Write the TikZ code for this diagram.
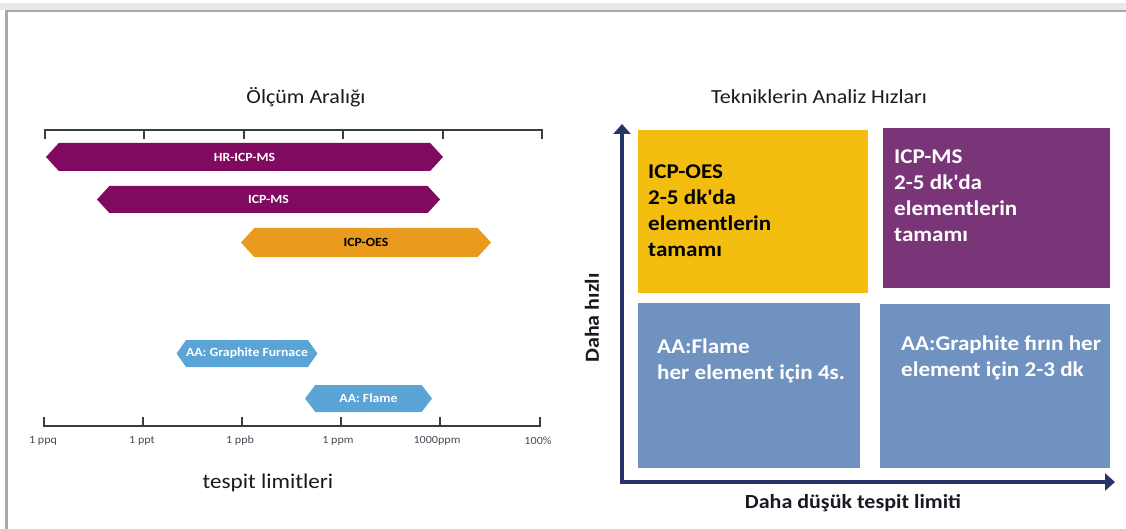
\documentclass[tikz,border=0pt]{standalone}
\usepackage{fontspec}
\setmainfont[FakeStretch=1.1]{Carlito}
\usetikzlibrary{arrows.meta,shapes.symbols}
\definecolor{ink}{RGB}{25,25,35}
\definecolor{scalegray}{RGB}{60,60,60}
\definecolor{limitgray}{RGB}{80,68,85}
\definecolor{msbar}{RGB}{127,10,95}
\definecolor{oesbar}{RGB}{233,155,29}
\definecolor{aabar}{RGB}{90,165,214}
\definecolor{oesbox}{RGB}{243,190,15}
\definecolor{msbox}{RGB}{122,53,120}
\definecolor{aabox}{RGB}{112,146,192}
\definecolor{navy}{RGB}{38,52,105}
\definecolor{framelight}{RGB}{232,232,232}
\definecolor{framedark}{RGB}{168,168,168}
\tikzset{
  title/.style={font=\fontsize{20}{24}\selectfont, text=ink, inner sep=0pt},
  scaleline/.style={scalegray, line width=1.3pt},
  ticklabel/.style={font=\fontsize{11}{13}\selectfont, text=limitgray, inner sep=0pt},
  rangebar/.style={shape=signal, signal to=west and east, signal from=nowhere,
              signal pointer angle=95, inner sep=0pt, minimum height=28pt,
              font=\fontsize{12.5}{14}\selectfont\bfseries, text=white},
  quad/.style={draw=none, inner sep=0pt},
  boxtext/.style={font=\fontsize{21}{26}\selectfont\bfseries, align=left, inner sep=0pt},
  axislabel/.style={font=\fontsize{20}{24}\selectfont\bfseries, text=ink, inner sep=0pt},
  axis/.style={navy, line width=4pt,
              {Triangle[length=10pt,width=17pt]}-{Triangle[length=10pt,width=17pt]}},
}
\begin{document}
\begin{tikzpicture}[x=1pt,y=-1pt]
  \useasboundingbox (0,0) rectangle (1126,529);
  % --- window frame ---
  \fill[framelight] (0,3) rectangle (1126,10);
  \fill[framedark] (5,10) rectangle (1126,12);
  \fill[framedark] (5,10) rectangle (8,529);

  % --- measuring range ---
  \node[title] (rangetitle) at (306,97) {Ölçüm Aralığı};
  \draw[scaleline] (45,139) -- (45,130) -- (542,130) -- (542,139);
  \foreach \x in {144,244,343,443}
    \draw[scaleline] (\x,130) -- (\x,139);
  \draw[scaleline] (44,417) -- (44,426) -- (540,426) -- (540,417);
  \foreach \x in {143,242,341,440}
    \draw[scaleline] (\x,426) -- (\x,417);
  \foreach \x/\t [count=\i] in {43/1 ppq, 142/1 ppt, 240/1 ppb, 338/1 ppm, 437/1000ppm, 538/100\%}
    \node[ticklabel] (limit\i) at (\x,441) {\t};
  \node[title, font=\fontsize{21}{24}\selectfont] (limittitle) at (268,483) {tespit limitleri};

  \node[rangebar, fill=msbar, minimum width=397pt] (hricpms) at (244.5,157) {HR-ICP-MS};
  \node[rangebar, fill=msbar, minimum width=343pt, minimum height=27pt] (icpms) at (268.5,199.5) {ICP-MS};
  \node[rangebar, fill=oesbar, text=black, minimum width=250pt, minimum height=29pt] (icpoes) at (366,242.5) {ICP-OES};
  \node[rangebar, fill=aabar, minimum width=130pt, minimum height=27pt,
        signal pointer angle=110] (graphite) at (247,353.5) {AA: Graphite Furnace};
  \node[rangebar, fill=aabar, minimum width=127pt, minimum height=27pt,
        signal pointer angle=105] (flame) at (368.5,398.5) {AA: Flame};

  % --- analysis speed ---
  \node[title] (speedtitle) at (819,97) {Tekniklerin Analiz Hızları};
  \coordinate (origin) at (622,482);
  \coordinate (ytip) at (622,124);
  \coordinate (xtip) at (1115,482);
  \draw[axis] (ytip) -- (origin) -- (xtip);
  \node[axislabel, rotate=90] (fastlabel) at (592,318) {Daha hızlı};
  \node[axislabel] (lowlabel) at (853,503) {Daha düşük tespit limiti};

  \node[quad, fill=oesbox, minimum width=230pt, minimum height=163pt] (oes) at (753,211.5) {};
  \node[quad, fill=msbox, minimum width=227pt, minimum height=160pt] (ms) at (996.5,208) {};
  \node[quad, fill=aabox, minimum width=222pt, minimum height=165pt] (aaflame) at (749,385.5) {};
  \node[quad, fill=aabox, minimum width=230pt, minimum height=164pt] (aafurnace) at (995,386) {};

  % multi-line text: base anchor sits on the last line
  \node[boxtext, text=black, anchor=base west] (oestext) at (648,257)
    {ICP-OES\\2-5 dk\textquotesingle da\\elementlerin\\tamamı};
  \node[boxtext, text=white, anchor=base west] (mstext) at (894,242)
    {ICP-MS\\2-5 dk\textquotesingle da\\elementlerin\\tamamı};
  \node[boxtext, text=white, anchor=base west] (flametext) at (657,379)
    {AA:Flame\\her element için 4s.};
  \node[boxtext, text=white, anchor=base west] (furnacetext) at (901,376)
    {AA:Graphite fırın her\\element için 2-3 dk};
\end{tikzpicture}
\end{document}
